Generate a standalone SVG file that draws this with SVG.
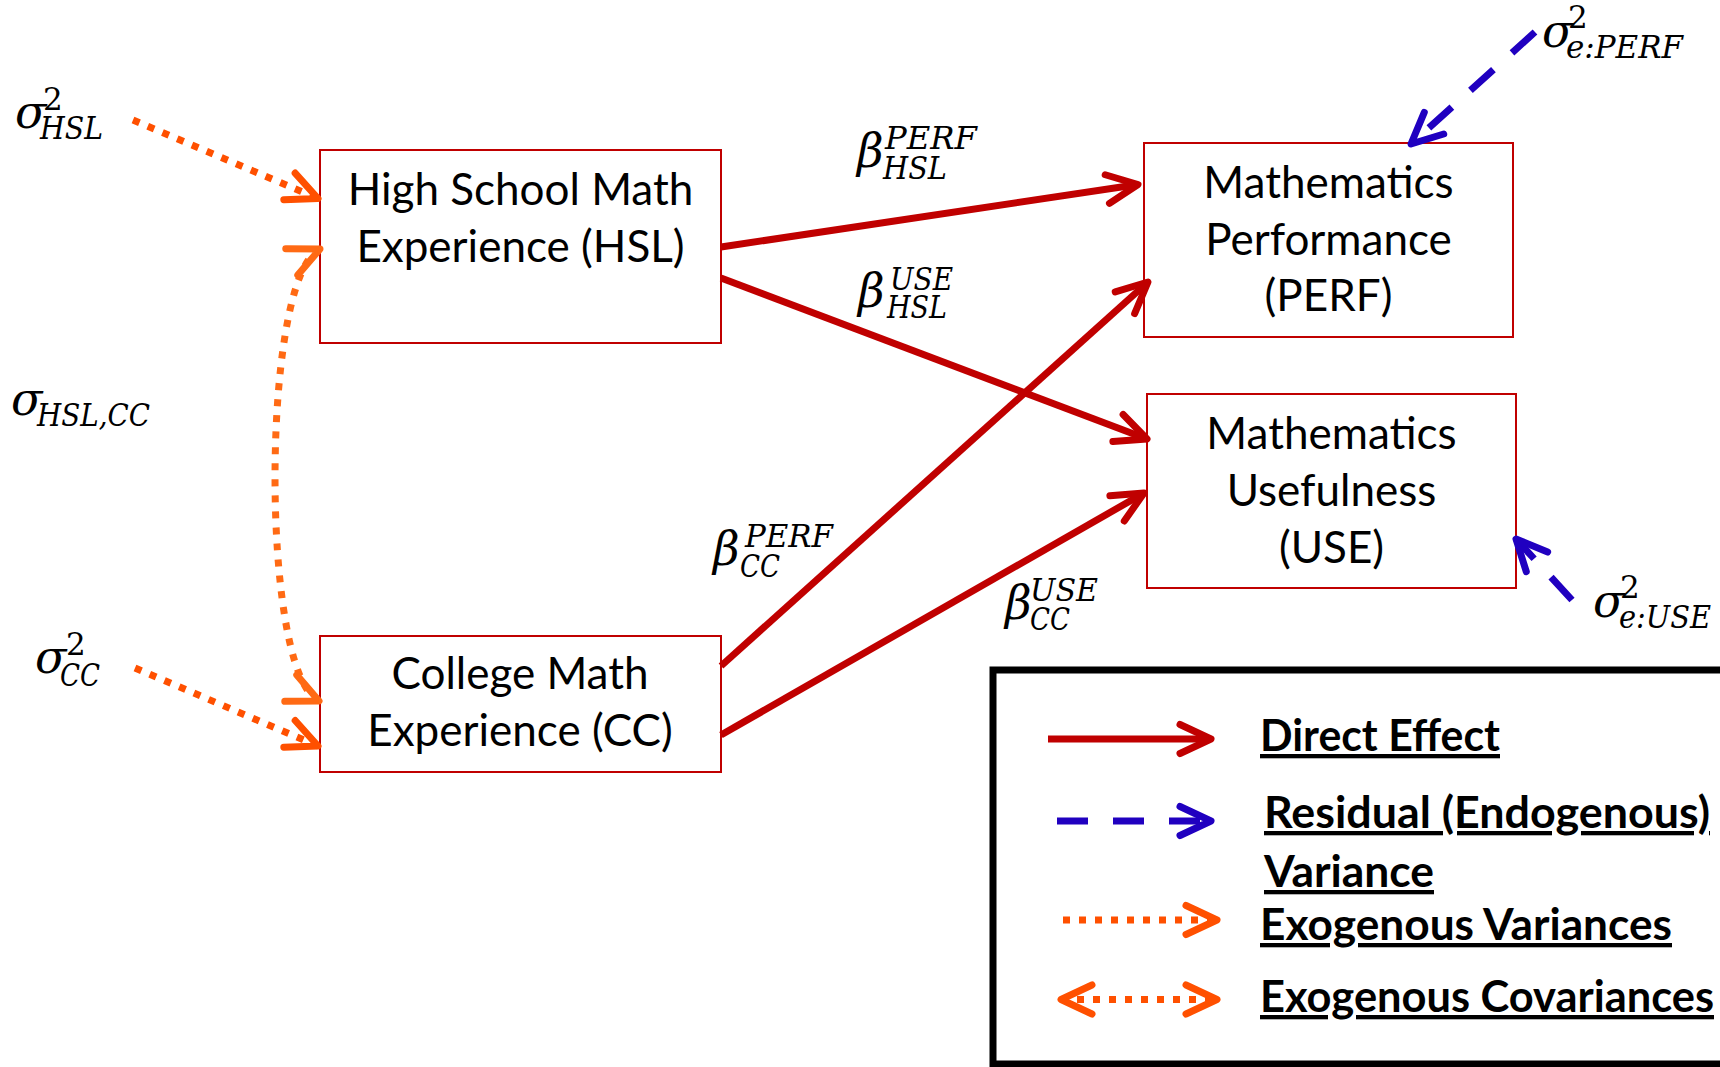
<svg xmlns="http://www.w3.org/2000/svg" width="1720" height="1067" viewBox="0 0 1720 1067">
<style>
  .box { fill: #ffffff; stroke: #C00000; stroke-width: 2; }
  .bt { font-family: Lato, "Open Sans", sans-serif; font-size: 44px; fill: #000; text-anchor: middle; }
  .lg { font-family: Lato, "Open Sans", sans-serif; font-weight: bold; font-size: 43px; fill: #000; text-decoration: underline; }
  .m { font-family: "DejaVu Serif", serif; font-style: italic; font-size: 46px; fill: #000; }
  .ms { font-size: 31px; }
  .up { font-style: normal; }
  .direct { fill: none; stroke: #C00000; stroke-width: 7; marker-end: url(#ahRed); }
  .resid { fill: none; stroke: #2000C0; stroke-width: 7; stroke-dasharray: 31 25; marker-end: url(#ahBlue); }
  .exvar { fill: none; stroke: #FF5000; stroke-width: 7; stroke-dasharray: 7 9; marker-end: url(#ahOrange); }
  .excov { fill: none; stroke: #FF6A14; stroke-width: 7; stroke-dasharray: 7 9; marker-start: url(#ahCovS); marker-end: url(#ahCov); }
  .legcov { fill: none; stroke: #FF5000; stroke-width: 7; stroke-dasharray: 7 9; marker-start: url(#ahOrangeS); marker-end: url(#ahOrange); }
</style>
<defs>
  <marker id="ahRed" markerUnits="userSpaceOnUse" orient="auto" overflow="visible" markerWidth="1" markerHeight="1" refX="0" refY="0">
    <path d="M-31,-14.5 L0,0 L-31,14.5" fill="none" stroke="#C00000" stroke-width="7" stroke-linecap="round" stroke-linejoin="round"/>
  </marker>
  <marker id="ahBlue" markerUnits="userSpaceOnUse" orient="auto" overflow="visible" markerWidth="1" markerHeight="1" refX="0" refY="0">
    <path d="M-31,-14.5 L0,0 L-31,14.5" fill="none" stroke="#2000C0" stroke-width="7" stroke-linecap="round" stroke-linejoin="round"/>
  </marker>
  <marker id="ahOrange" markerUnits="userSpaceOnUse" orient="auto" overflow="visible" markerWidth="1" markerHeight="1" refX="0" refY="0">
    <path d="M-31,-14.5 L0,0 L-31,14.5" fill="none" stroke="#FF5000" stroke-width="7" stroke-linecap="round" stroke-linejoin="round"/>
  </marker>
  <marker id="ahOrangeS" markerUnits="userSpaceOnUse" orient="auto-start-reverse" overflow="visible" markerWidth="1" markerHeight="1" refX="0" refY="0">
    <path d="M-31,-14.5 L0,0 L-31,14.5" fill="none" stroke="#FF5000" stroke-width="7" stroke-linecap="round" stroke-linejoin="round"/>
  </marker>
  <marker id="ahCov" markerUnits="userSpaceOnUse" orient="auto" overflow="visible" markerWidth="1" markerHeight="1" refX="0" refY="0">
    <path d="M-31,-14.5 L0,0 L-31,14.5" fill="none" stroke="#FF6A14" stroke-width="7" stroke-linecap="round" stroke-linejoin="round"/>
  </marker>
  <marker id="ahCovS" markerUnits="userSpaceOnUse" orient="auto-start-reverse" overflow="visible" markerWidth="1" markerHeight="1" refX="0" refY="0">
    <path d="M-31,-14.5 L0,0 L-31,14.5" fill="none" stroke="#FF6A14" stroke-width="7" stroke-linecap="round" stroke-linejoin="round"/>
  </marker>
</defs>
<rect width="1720" height="1067" fill="#ffffff"/>

<g id="node-hsl">
  <rect class="box" x="320" y="150" width="401" height="193"/>
  <text class="bt" x="520.5" y="205">High School Math</text>
  <text class="bt" x="520.5" y="262">Experience (HSL)</text>
</g>
<g id="node-cc">
  <rect class="box" x="320" y="636" width="401" height="136"/>
  <text class="bt" x="520" y="689">College Math</text>
  <text class="bt" x="520" y="746">Experience (CC)</text>
</g>
<g id="node-perf">
  <rect class="box" x="1144" y="143" width="369" height="194"/>
  <text class="bt" x="1328.5" y="198">Mathematics</text>
  <text class="bt" x="1328.5" y="255">Performance</text>
  <text class="bt" x="1328.5" y="311">(PERF)</text>
</g>
<g id="node-use">
  <rect class="box" x="1147" y="394" width="369" height="194"/>
  <text class="bt" x="1331.5" y="449">Mathematics</text>
  <text class="bt" x="1331.5" y="506">Usefulness</text>
  <text class="bt" x="1331.5" y="563">(USE)</text>
</g>

<g id="connectors">
  <path class="direct" d="M721,247 L1138,184.5"/>
  <path class="direct" d="M721,278 L1147,439"/>
  <path class="direct" d="M721,666 L1148,282"/>
  <path class="direct" d="M721,735 L1144,493"/>
  <path class="exvar" d="M133,120 L318,198.5"/>
  <path class="exvar" d="M135,668 L318,746"/>
  <path class="excov" d="M320,249 C260.7,276 259.7,674 319,701"/>
  <path class="resid" d="M1535,32 L1411,144"/>
  <path class="resid" d="M1572,600 L1516,539"/>
</g>

<g id="labels">
  <text id="lbl-var-hsl" class="m" x="15" y="128">σ<tspan class="ms up" x="43" y="110">2</tspan><tspan class="ms" x="40" y="139" textLength="63" lengthAdjust="spacingAndGlyphs">HSL</tspan></text>
  <text id="lbl-cov" class="m" x="11" y="415">σ<tspan class="ms" x="37" y="426" textLength="113" lengthAdjust="spacingAndGlyphs">HSL,CC</tspan></text>
  <text id="lbl-var-cc" class="m" x="35" y="673">σ<tspan class="ms up" x="66" y="655">2</tspan><tspan class="ms" x="60" y="686" textLength="40" lengthAdjust="spacingAndGlyphs">CC</tspan></text>
  <text id="lbl-b-hsl-perf" class="m" x="857" y="167">β<tspan class="ms" x="885" y="149" textLength="92" lengthAdjust="spacingAndGlyphs">PERF</tspan><tspan class="ms" x="883" y="179" textLength="64" lengthAdjust="spacingAndGlyphs">HSL</tspan></text>
  <text id="lbl-b-hsl-use" class="m" x="858" y="307">β<tspan class="ms" x="890" y="290" textLength="63" lengthAdjust="spacingAndGlyphs">USE</tspan><tspan class="ms" x="887" y="318" textLength="60" lengthAdjust="spacingAndGlyphs">HSL</tspan></text>
  <text id="lbl-b-cc-perf" class="m" x="713" y="565">β<tspan class="ms" x="745" y="547" textLength="88" lengthAdjust="spacingAndGlyphs">PERF</tspan><tspan class="ms" x="740" y="577" textLength="40" lengthAdjust="spacingAndGlyphs">CC</tspan></text>
  <text id="lbl-b-cc-use" class="m" x="1005" y="619">β<tspan class="ms" x="1030" y="601" textLength="68" lengthAdjust="spacingAndGlyphs">USE</tspan><tspan class="ms" x="1030" y="630" textLength="40" lengthAdjust="spacingAndGlyphs">CC</tspan></text>
  <text id="lbl-e-perf" class="m" x="1542" y="47">σ<tspan class="ms up" x="1568" y="28">2</tspan><tspan class="ms" x="1566" y="58" textLength="117" lengthAdjust="spacingAndGlyphs">e:PERF</tspan></text>
  <text id="lbl-e-use" class="m" x="1593" y="617">σ<tspan class="ms up" x="1620" y="598">2</tspan><tspan class="ms" x="1619" y="628" textLength="92" lengthAdjust="spacingAndGlyphs">e:USE</tspan></text>
</g>

<g id="legend">
  <rect x="993" y="670" width="800" height="394" fill="none" stroke="#000" stroke-width="7"/>
  <path class="direct" d="M1048,739 L1211,739"/>
  <path class="resid" d="M1057,821 L1211,821"/>
  <path class="exvar" d="M1063,920 L1217,920"/>
  <path class="legcov" d="M1061,999.5 L1217,999.5"/>
  <text class="lg" x="1260" y="751" textLength="240" lengthAdjust="spacingAndGlyphs">Direct Effect</text>
  <text class="lg" x="1264" y="828" textLength="446" lengthAdjust="spacingAndGlyphs">Residual (Endogenous)</text>
  <text class="lg" x="1264" y="887" textLength="170" lengthAdjust="spacingAndGlyphs">Variance</text>
  <text class="lg" x="1260" y="940" textLength="412" lengthAdjust="spacingAndGlyphs">Exogenous Variances</text>
  <text class="lg" x="1260" y="1012" textLength="454" lengthAdjust="spacingAndGlyphs">Exogenous Covariances</text>
</g>
</svg>
